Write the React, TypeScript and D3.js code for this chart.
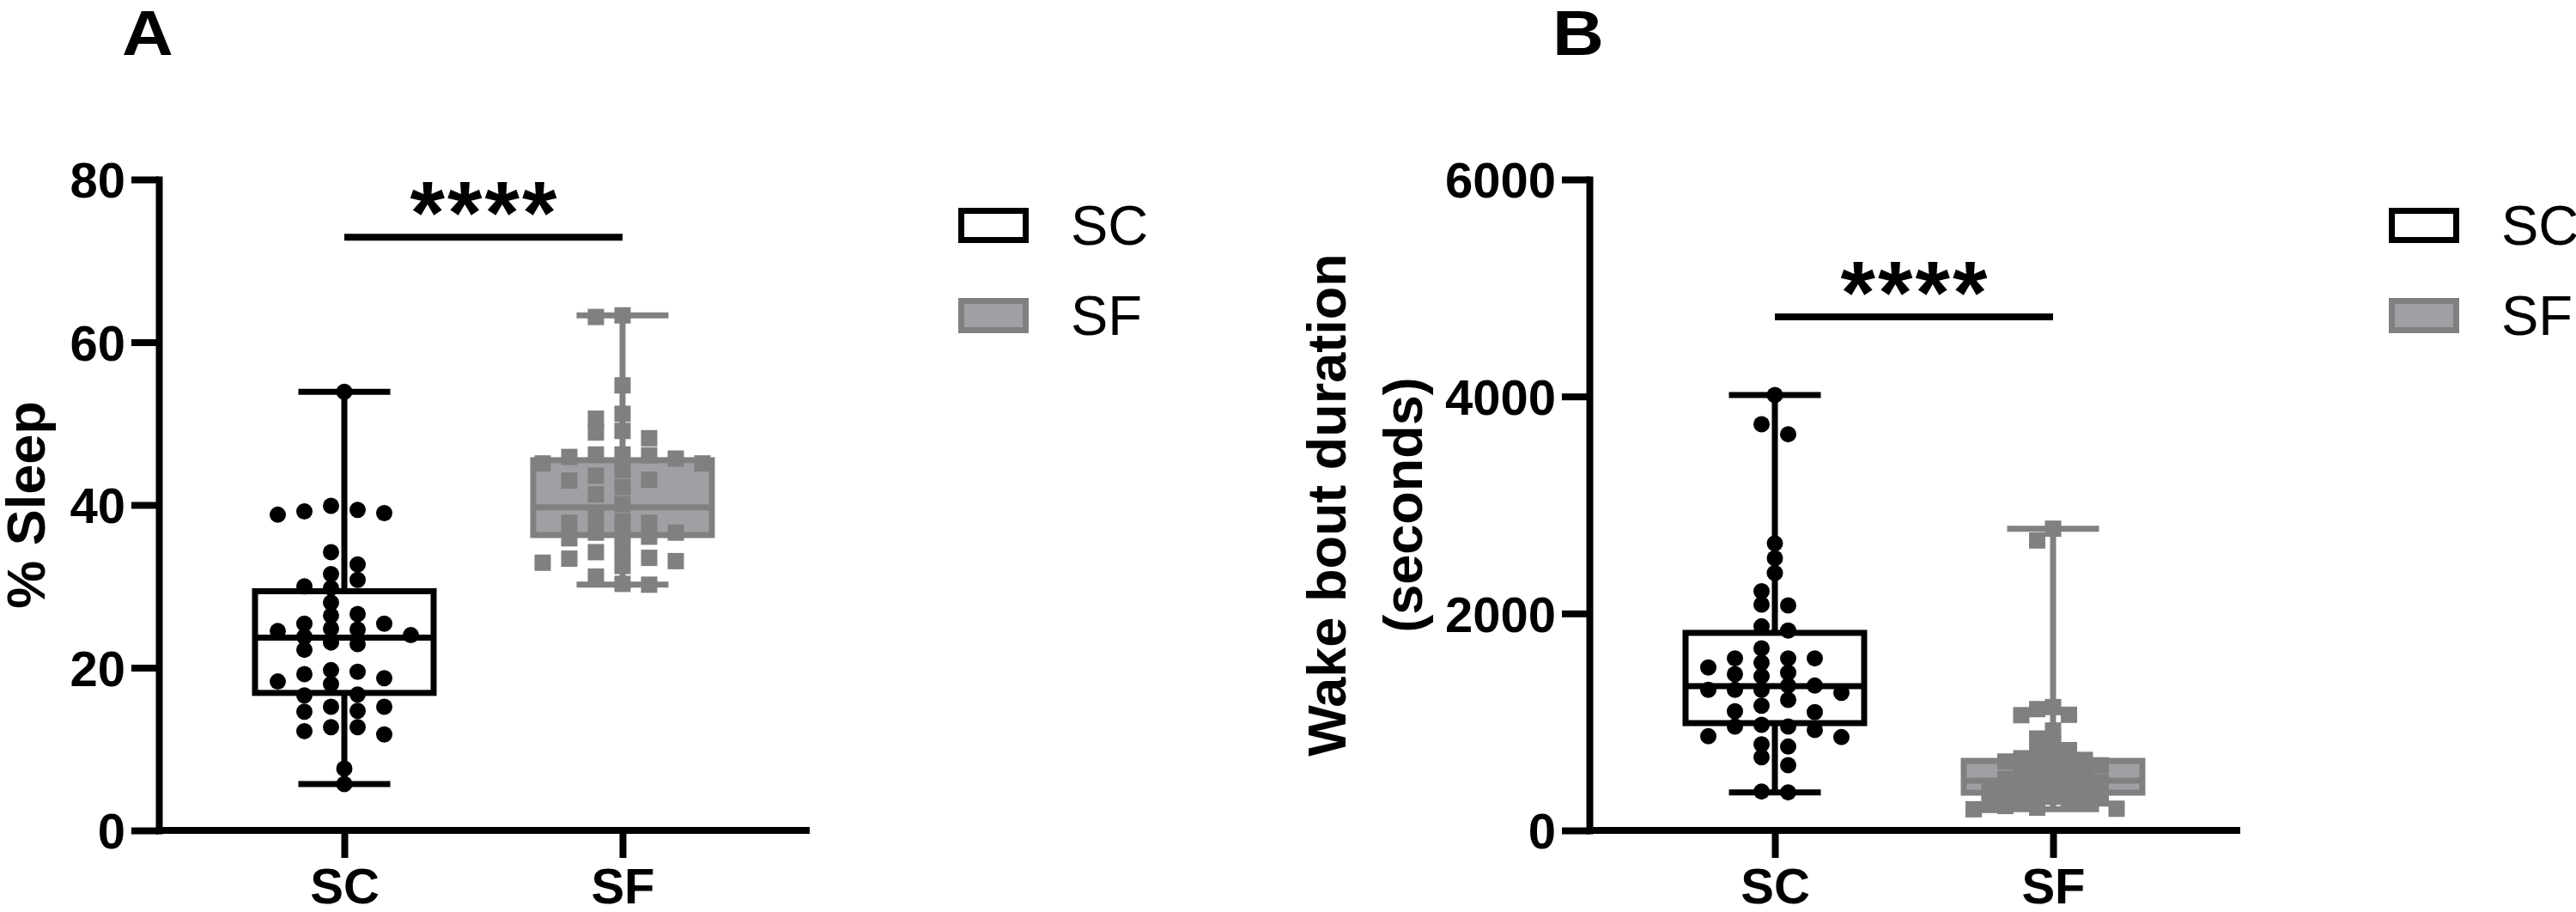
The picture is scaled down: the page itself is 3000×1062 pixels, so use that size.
import { useEffect, useRef } from "react";
import * as d3 from "d3";

const groups = ["SC", "SF"];

// Panel A: % sleep, one value per animal
const sleepSC = [
  53.9, 39.9, 39.4, 39.2, 39.0, 38.8, 34.2, 32.7, 31.5, 30.8, 30.0, 29.8, 28.0,
  26.6, 26.4, 25.4, 25.4, 24.8, 24.7, 24.5, 24.0, 23.8, 23.1, 22.9, 22.2, 19.7,
  19.5, 19.2, 18.7, 18.3, 18.0, 16.7, 16.6, 15.2, 15.2, 14.7, 14.6, 12.7, 12.7,
  12.2, 11.8, 7.6, 5.7,
];
const sleepSF = [
  63.3, 63.1, 54.7, 51.2, 50.6, 49.1, 48.9, 48.2, 46.2, 46.2, 46.1, 45.9, 45.7,
  45.1, 45.1, 44.3, 43.6, 43.1, 43.0, 42.2, 41.3, 40.1, 38.6, 38.0, 37.8, 37.8,
  36.6, 36.6, 36.3, 36.1, 35.9, 34.4, 34.2, 33.5, 33.4, 33.1, 32.9, 32.5, 31.2,
  30.3, 30.2,
];
// box summaries: [min, q1, median, q3, max]
const sleepBoxSC = [5.7, 16.9, 23.7, 29.4, 53.9];
const sleepBoxSF = [30.2, 36.3, 39.7, 45.5, 63.3];
const sleepTicks = [0, 20, 40, 60, 80];
const sleepSig = 72.9;

// Panel B: wake bout duration (seconds)
const wakeSC = [
  4013, 3744, 3652, 2646, 2509, 2372, 2205, 2082, 2074, 1881, 1842, 1678, 1586,
  1586, 1586, 1546, 1502, 1454, 1441, 1422, 1335, 1335, 1296, 1296, 1296, 1269,
  1203, 1150, 1098, 1090, 974, 958, 958, 926, 868, 860, 794, 773, 675, 602, 359,
  351,
];
const wakeSF = [
  2781, 2673, 1137, 1118, 1066, 1062, 921, 847, 802, 740, 700, 680, 665, 650,
  635, 620, 600, 580, 560, 540, 515, 495, 475, 460, 445, 430, 410, 395, 375, 360,
  345, 330, 310, 295, 280, 265, 250, 235, 225, 210, 200, 195,
];
const wakeBoxSC = [351, 989, 1330, 1821, 4013];
const wakeBoxSF = [195, 348, 459, 641, 2781];
const wakeTicks = [0, 2000, 4000, 6000];
const wakeSig = 4733;

const W = 3000;
const H = 1062;
const FONT = "'Liberation Sans', Arial, Helvetica, sans-serif";
const GREY = "#808080";
const GREY_FILL = "#a0a0a4";
const TOP = 209;
const BOTTOM = 967;
const DOT = 19;

// GraphPad-like scatter: points keep their y, x snaps to discrete slots
function swarm(values, y, { spacing, grid }) {
  const pts = values.map((v) => ({ v, y: y(v), dx: 0 })).sort((a, b) => a.y - b.y);
  const minGap = 15;
  const clusters = [];
  let cur = [];
  pts.forEach((p, i) => {
    if (i > 0 && p.y - pts[i - 1].y > DOT) {
      clusters.push(cur);
      cur = [];
    }
    cur.push(p);
  });
  if (cur.length) clusters.push(cur);

  const slots = [];
  for (let k = 0; k < 8; k++) {
    if (grid === "even") slots.push(-(k + 0.5), k + 0.5);
    else if (k === 0) slots.push(0);
    else slots.push(-k, k);
  }

  clusters.forEach((c) => {
    const stack = c.every((p, i) => i === 0 || p.y - c[i - 1].y >= minGap);
    if (stack) return;
    const last = new Map();
    c.forEach((p) => {
      const s = slots.find((s) => !last.has(s) || p.y - last.get(s) >= minGap);
      last.set(s, p.y);
      p.dx = s * spacing;
    });
  });
  return pts;
}

function drawPanel(svg, cfg) {
  const { axisX, letter, domainMax, ticks, series, sig, yLabel, labelX } = cfg;
  const g = svg.append("g");

  const y = d3.scaleLinear().domain([0, domainMax]).range([BOTTOM, TOP]);
  const x = d3.scalePoint().domain(groups).range([axisX + 216, axisX + 540]);
  const xEnd = axisX + 758;

  // panel letter
  g.append("text")
    .attr("transform", `translate(${axisX - 43},64) scale(1.12,1)`)
    .style("font-family", FONT)
    .style("font-weight", "bold")
    .style("font-size", "74px")
    .text(letter);

  // y axis
  g.append("g")
    .attr("transform", `translate(${axisX},0)`)
    .call(
      d3
        .axisLeft(y)
        .tickValues(ticks)
        .tickFormat(d3.format("d"))
        .tickSize(32)
        .tickSizeOuter(0)
        .tickPadding(7)
    )
    .call((a) => a.select(".domain").attr("stroke-width", 8).attr("stroke-linecap", "square"))
    .call((a) => a.selectAll(".tick line").attr("stroke-width", 8))
    .call((a) =>
      a
        .selectAll(".tick text")
        .attr("dy", "0.36em")
        .attr("fill", "#000")
        .style("font-family", FONT)
        .style("font-weight", "bold")
        .style("font-size", "58px")
    );

  // x axis
  g.append("line")
    .attr("x1", axisX)
    .attr("x2", xEnd)
    .attr("y1", y(0))
    .attr("y2", y(0))
    .attr("stroke", "#000")
    .attr("stroke-width", 8);
  g.append("g")
    .attr("transform", `translate(0,${y(0)})`)
    .call(d3.axisBottom(x).tickSize(32).tickSizeOuter(0).tickPadding(12))
    .call((a) => a.select(".domain").remove())
    .call((a) => a.selectAll(".tick line").attr("stroke-width", 8))
    .call((a) =>
      a
        .selectAll(".tick text")
        .attr("fill", "#000")
        .style("font-family", FONT)
        .style("font-weight", "bold")
        .style("font-size", "58px")
    );

  // y label (rotated)
  yLabel.forEach((line, i) => {
    g.append("text")
      .attr("transform", `translate(${labelX[i]},${(TOP + BOTTOM) / 2}) rotate(-90)`)
      .attr("text-anchor", "middle")
      .style("font-family", FONT)
      .style("font-weight", "bold")
      .style("font-size", "63px")
      .text(line);
  });

  // boxes, whiskers, points
  series.forEach((s) => {
    const cx = x(s.name);
    const [mn, q1, md, q3, mx] = s.box;
    const bw = 208;
    const cw = 107;
    const b = g.append("g").attr("stroke", s.color).attr("stroke-width", 7);
    b.append("line").attr("x1", cx).attr("x2", cx).attr("y1", y(mx)).attr("y2", y(q3));
    b.append("line").attr("x1", cx).attr("x2", cx).attr("y1", y(q1)).attr("y2", y(mn));
    b.append("line").attr("x1", cx - cw / 2).attr("x2", cx + cw / 2).attr("y1", y(mx)).attr("y2", y(mx));
    b.append("line").attr("x1", cx - cw / 2).attr("x2", cx + cw / 2).attr("y1", y(mn)).attr("y2", y(mn));
    b.append("rect")
      .attr("x", cx - bw / 2)
      .attr("y", y(q3))
      .attr("width", bw)
      .attr("height", y(q1) - y(q3))
      .attr("fill", s.fill);
    b.append("line").attr("x1", cx - bw / 2).attr("x2", cx + bw / 2).attr("y1", y(md)).attr("y2", y(md));

    const pts = swarm(s.values, y, s.layout);
    if (s.shape === "circle") {
      g.append("g")
        .selectAll("circle")
        .data(pts)
        .join("circle")
        .attr("cx", (d) => cx + d.dx)
        .attr("cy", (d) => d.y)
        .attr("r", DOT / 2)
        .attr("fill", s.color);
    } else {
      g.append("g")
        .selectAll("rect")
        .data(pts)
        .join("rect")
        .attr("x", (d) => cx + d.dx - DOT / 2)
        .attr("y", (d) => d.y - DOT / 2)
        .attr("width", DOT)
        .attr("height", DOT)
        .attr("fill", s.color);
    }
  });

  // significance bar
  g.append("line")
    .attr("x1", x("SC"))
    .attr("x2", x("SF"))
    .attr("y1", y(sig))
    .attr("y2", y(sig))
    .attr("stroke", "#000")
    .attr("stroke-width", 8);
  g.append("text")
    .attr("x", (x("SC") + x("SF")) / 2 + 1.5)
    .attr("y", y(sig) + 8)
    .attr("text-anchor", "middle")
    .style("font-family", FONT)
    .style("font-weight", "bold")
    .style("font-size", "104px")
    .style("letter-spacing", "3px")
    .text("****");

  // legend
  const lx = axisX + 931;
  series.forEach((s, i) => {
    const top = 242 + i * 105;
    g.append("rect")
      .attr("x", lx + 3.5)
      .attr("y", top + 3.5)
      .attr("width", 75)
      .attr("height", 34)
      .attr("fill", s.fill)
      .attr("stroke", s.color)
      .attr("stroke-width", 7);
    g.append("text")
      .attr("x", lx + 131)
      .attr("y", top + 43)
      .style("font-family", FONT)
      .style("font-size", "65px")
      .text(s.name);
  });
}

export default function App() {
  const ref = useRef(null);

  useEffect(() => {
    const svg = d3.select(ref.current);
    svg.selectAll("*").remove();

    drawPanel(svg, {
      axisX: 185,
      letter: "A",
      domainMax: 80,
      ticks: sleepTicks,
      sig: sleepSig,
      yLabel: ["% Sleep"],
      labelX: [52],
      series: [
        { name: "SC", values: sleepSC, box: sleepBoxSC, color: "#000", fill: "#fff", shape: "circle", layout: { spacing: 31, grid: "even" } },
        { name: "SF", values: sleepSF, box: sleepBoxSF, color: GREY, fill: GREY_FILL, shape: "square", layout: { spacing: 31, grid: "odd" } },
      ],
    });

    drawPanel(svg, {
      axisX: 1851,
      letter: "B",
      domainMax: 6000,
      ticks: wakeTicks,
      sig: wakeSig,
      yLabel: ["Wake bout duration", "(seconds)"],
      labelX: [1567, 1656],
      series: [
        { name: "SC", values: wakeSC, box: wakeBoxSC, color: "#000", fill: "#fff", shape: "circle", layout: { spacing: 31, grid: "even" } },
        { name: "SF", values: wakeSF, box: wakeBoxSF, color: GREY, fill: GREY_FILL, shape: "square", layout: { spacing: 18.5, grid: "odd" } },
      ],
    });
  }, []);

  return (
    <svg
      ref={ref}
      width={W}
      height={H}
      style={{ position: "absolute", left: 0, top: 0, background: "#fff" }}
    />
  );
}
